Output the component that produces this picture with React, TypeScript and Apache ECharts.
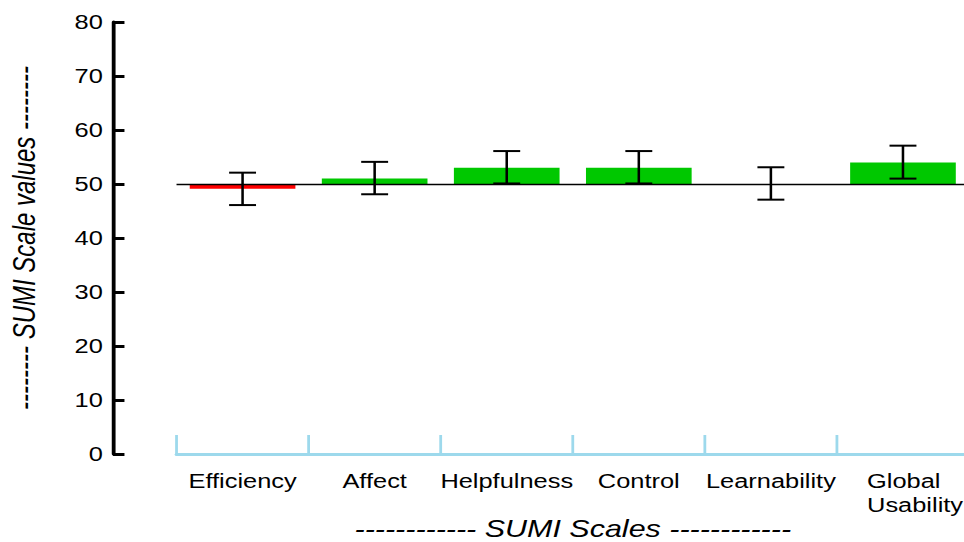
import React, { useEffect, useRef } from "react";
import * as echarts from "echarts";

const categories = ["Efficiency", "Affect", "Helpfulness", "Control", "Learnability", "Global\nUsability"];
const means = [49.1, 51, 53, 53, 50, 54];
const lower = [46.1, 48.1, 50.1, 50.1, 47.1, 51.0];
const upper = [52.1, 54.1, 56.1, 56.1, 53.1, 57.1];
const baseline = 50;
const yMin = 0;
const yMax = 80;
const yInterval = 10;

const xTitle = "------------ SUMI Scales ------------";
const yTitle = "-------- SUMI Scale values --------";

const STRETCH = 1.27;
const FONT = "'Liberation Sans', Arial, Helvetica, sans-serif";

export default function App() {
  const ref = useRef<HTMLDivElement>(null);

  useEffect(() => {
    if (!ref.current) return;
    const chart = echarts.init(ref.current, undefined, { renderer: "svg" });
    const barData = means.map((v, i) => [i, v]);
    const errData = means.map((_, i) => [i, lower[i], upper[i]]);
    chart.setOption({
      animation: false,
      textStyle: { fontFamily: FONT },
      grid: { left: 139, top: 22, width: 624, height: 432, containLabel: false, outerBoundsMode: "none" },
      xAxis: {
        type: "category",
        data: categories,
        boundaryGap: true,
        offset: 8,
        axisLine: { show: true, lineStyle: { color: "#9dd9ec", width: 3 } },
        axisTick: {
          show: true,
          inside: true,
          length: 19,
          interval: 0,
          alignWithLabel: false,
          lineStyle: { color: "#9dd9ec", width: 2.2 },
        },
        axisLabel: {
          interval: 0,
          color: "#000",
          fontSize: 20,
          lineHeight: 24,
          margin: 7,
          fontFamily: FONT,
          formatter: (v: string) =>
            v.indexOf("\n") >= 0 ? v.split("\n").map((s) => "{m|" + s + "}").join("\n") : v,
          rich: {
            m: {
              align: "left",
              color: "#000",
              fontSize: 20,
              lineHeight: 24,
              fontFamily: FONT,
              padding: [0, 0, 0, 19],
            },
          },
        },
        splitLine: { show: false },
        name: xTitle,
        nameLocation: "middle",
        nameGap: 55,
        nameMoveOverlap: false,
        nameTextStyle: { color: "#000", fontSize: 24, lineHeight: 24, fontStyle: "italic", fontFamily: FONT },
      },
      yAxis: {
        type: "value",
        min: yMin,
        max: yMax,
        interval: yInterval,
        position: "left",
        offset: 50,
        axisLine: { show: true, lineStyle: { color: "#000", width: 3 } },
        axisTick: { show: true, inside: true, length: 9, lineStyle: { color: "#000", width: 3 } },
        axisLabel: { color: "#000", fontSize: 20, margin: 8, fontFamily: FONT },
        splitLine: { show: false },
        name: yTitle,
        nameLocation: "middle",
        nameRotate: 90,
        nameGap: 58,
        nameMoveOverlap: false,
        nameTextStyle: { color: "#000", fontSize: 24, lineHeight: 24, fontStyle: "italic", fontFamily: FONT },
      },
      series: [
        {
          type: "custom",
          name: "bars",
          data: barData,
          encode: { x: 0, y: 1 },
          renderItem: (params: any, api: any) => {
            const i = api.value(0);
            const v = api.value(1);
            const p0 = api.coord([i, baseline]);
            const p1 = api.coord([i, v]);
            const w = api.size([1, 0])[0] * 0.8;
            return {
              type: "rect",
              shape: {
                x: p0[0] - w / 2,
                y: Math.min(p0[1], p1[1]),
                width: w,
                height: Math.abs(p1[1] - p0[1]),
              },
              style: { fill: v < baseline ? "#ff0000" : "#00c800" },
            };
          },
          markLine: {
            silent: true,
            symbol: ["none", "none"],
            label: { show: false },
            lineStyle: { color: "#000", width: 1.3, type: "solid" },
            data: [{ yAxis: baseline }],
          },
          z: 2,
        },
        {
          type: "custom",
          name: "errors",
          data: errData,
          encode: { x: 0, y: [1, 2] },
          renderItem: (params: any, api: any) => {
            const i = api.value(0);
            const lo = api.coord([i, api.value(1)]);
            const hi = api.coord([i, api.value(2)]);
            const hw = 10.6;
            const st = { stroke: "#000", lineWidth: 2 };
            return {
              type: "group",
              children: [
                { type: "line", shape: { x1: lo[0], y1: lo[1], x2: hi[0], y2: hi[1] }, style: st },
                { type: "line", shape: { x1: lo[0] - hw, y1: lo[1], x2: lo[0] + hw, y2: lo[1] }, style: st },
                { type: "line", shape: { x1: hi[0] - hw, y1: hi[1], x2: hi[0] + hw, y2: hi[1] }, style: st },
              ],
            };
          },
          z: 5,
        },
      ],
    });
    return () => chart.dispose();
  }, []);

  return (
    <div style={{ position: "absolute", left: 0, top: 0, width: 964, height: 542, overflow: "hidden", background: "#fff" }}>
      <div
        ref={ref}
        style={{
          width: Math.round(964 / STRETCH),
          height: 542,
          transform: `scaleX(${STRETCH})`,
          transformOrigin: "0 0",
        }}
      />
    </div>
  );
}
